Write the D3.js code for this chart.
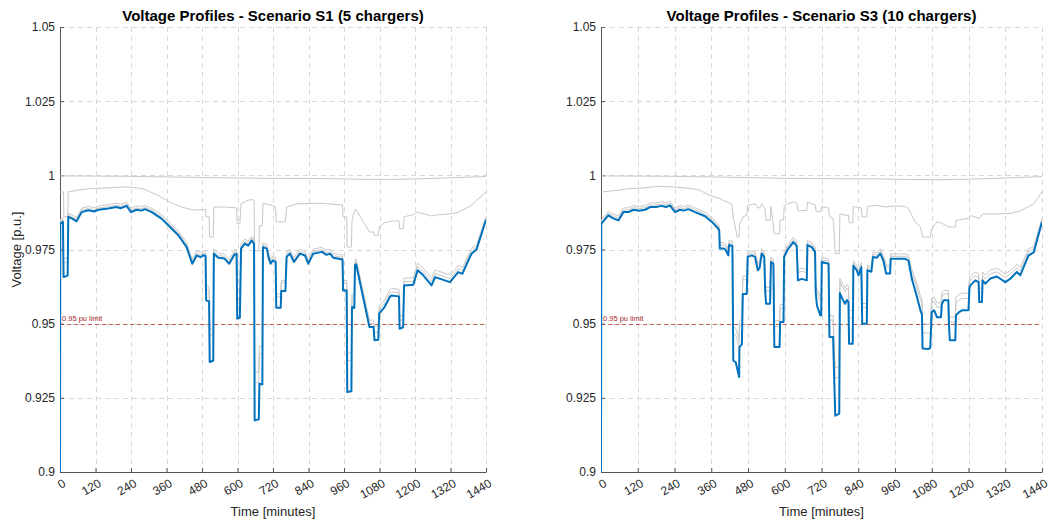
<!DOCTYPE html>
<html>
<head>
<meta charset="utf-8">
<script src="https://cdn.jsdelivr.net/npm/d3@7"></script>
<style>
  html, body { margin: 0; padding: 0; background: #fff; }
  svg { display: block; font-family: "Liberation Sans", Arial, Helvetica, sans-serif; }
</style>
</head>
<body>
<svg id="chart" width="1051" height="524"></svg>
<script>
// ---------- axis ticks ----------
const timeTicks = [0, 120, 240, 360, 480, 600, 720, 840, 960, 1080, 1200, 1320, 1440];
const voltTicks = [0.9, 0.925, 0.95, 0.975, 1, 1.025, 1.05];
const limitValue = 0.95;
const limitLabel = "0.95 pu limit";

// ---------- Scenario S1 (5 chargers) ----------
const s1Time = [0, 1, 10, 12, 26, 28, 40, 56, 73, 96, 115, 130, 163, 191, 205, 225, 240, 259, 275, 287, 310, 343, 372, 400, 428, 447, 462, 475, 485, 492, 494, 504, 506, 518, 520, 535, 555, 572, 590, 597, 599, 608, 612, 625, 636, 648, 656, 658, 672, 674, 684, 686, 699, 706, 712, 719, 729, 731, 746, 748, 762, 766, 777, 791, 811, 828, 839, 856, 885, 901, 913, 924, 955, 957, 969, 971, 985, 987, 995, 997, 1001, 1046, 1060, 1063, 1076, 1079, 1097, 1115, 1120, 1146, 1148, 1160, 1163, 1194, 1209, 1228, 1256, 1268, 1318, 1346, 1360, 1391, 1408, 1440];
// weakest bus (end of feeder)
const s1Weakest = [0.9000, 0.9838, 0.9843, 0.9657, 0.9662, 0.9860, 0.9855, 0.9845, 0.9876, 0.9882, 0.9878, 0.9884, 0.9888, 0.9893, 0.9889, 0.9897, 0.9876, 0.9884, 0.9881, 0.9886, 0.9876, 0.9854, 0.9826, 0.9798, 0.9758, 0.9702, 0.9730, 0.9724, 0.9731, 0.9728, 0.9579, 0.9575, 0.9371, 0.9375, 0.9736, 0.9722, 0.9720, 0.9702, 0.9733, 0.9735, 0.9517, 0.9520, 0.9753, 0.9770, 0.9763, 0.9780, 0.9770, 0.9174, 0.9178, 0.9298, 0.9295, 0.9758, 0.9753, 0.9719, 0.9702, 0.9713, 0.9708, 0.9554, 0.9554, 0.9610, 0.9610, 0.9725, 0.9736, 0.9708, 0.9736, 0.9730, 0.9702, 0.9736, 0.9742, 0.9732, 0.9736, 0.9722, 0.9716, 0.9612, 0.9612, 0.9270, 0.9272, 0.9556, 0.9553, 0.9697, 0.9700, 0.9489, 0.9489, 0.9444, 0.9446, 0.9534, 0.9556, 0.9590, 0.9595, 0.9592, 0.9483, 0.9488, 0.9629, 0.9631, 0.9680, 0.9663, 0.9629, 0.9657, 0.9640, 0.9674, 0.9668, 0.9736, 0.9750, 0.9850];
const s1NearA = [0.9000, 0.9845, 0.9850, 0.9705, 0.9710, 0.9866, 0.9861, 0.9851, 0.9882, 0.9888, 0.9884, 0.9890, 0.9894, 0.9899, 0.9895, 0.9903, 0.9882, 0.9890, 0.9887, 0.9892, 0.9882, 0.9860, 0.9832, 0.9805, 0.9765, 0.9709, 0.9737, 0.9731, 0.9738, 0.9735, 0.9615, 0.9612, 0.9460, 0.9463, 0.9743, 0.9729, 0.9727, 0.9709, 0.9740, 0.9742, 0.9568, 0.9571, 0.9760, 0.9777, 0.9770, 0.9787, 0.9777, 0.9300, 0.9303, 0.9400, 0.9398, 0.9765, 0.9760, 0.9726, 0.9709, 0.9720, 0.9715, 0.9590, 0.9590, 0.9638, 0.9638, 0.9732, 0.9743, 0.9715, 0.9743, 0.9737, 0.9709, 0.9743, 0.9749, 0.9739, 0.9743, 0.9729, 0.9723, 0.9636, 0.9636, 0.9375, 0.9377, 0.9590, 0.9588, 0.9706, 0.9709, 0.9500, 0.9500, 0.9470, 0.9472, 0.9548, 0.9568, 0.9602, 0.9607, 0.9604, 0.9510, 0.9514, 0.9641, 0.9643, 0.9692, 0.9675, 0.9641, 0.9669, 0.9652, 0.9685, 0.9679, 0.9745, 0.9758, 0.9855];
const s1NearB = [0.9000, 0.9852, 0.9857, 0.9718, 0.9722, 0.9873, 0.9868, 0.9858, 0.9889, 0.9895, 0.9891, 0.9897, 0.9901, 0.9906, 0.9902, 0.9910, 0.9889, 0.9897, 0.9894, 0.9899, 0.9889, 0.9867, 0.9839, 0.9812, 0.9773, 0.9717, 0.9745, 0.9739, 0.9746, 0.9743, 0.9628, 0.9625, 0.9480, 0.9483, 0.9751, 0.9737, 0.9735, 0.9717, 0.9748, 0.9750, 0.9582, 0.9585, 0.9768, 0.9785, 0.9778, 0.9795, 0.9785, 0.9335, 0.9338, 0.9425, 0.9422, 0.9773, 0.9768, 0.9734, 0.9717, 0.9728, 0.9723, 0.9600, 0.9600, 0.9646, 0.9646, 0.9740, 0.9751, 0.9723, 0.9751, 0.9745, 0.9717, 0.9751, 0.9757, 0.9747, 0.9751, 0.9737, 0.9731, 0.9645, 0.9645, 0.9400, 0.9402, 0.9600, 0.9598, 0.9716, 0.9719, 0.9512, 0.9512, 0.9490, 0.9492, 0.9560, 0.9580, 0.9614, 0.9619, 0.9616, 0.9525, 0.9528, 0.9653, 0.9655, 0.9704, 0.9687, 0.9653, 0.9681, 0.9664, 0.9696, 0.9690, 0.9754, 0.9766, 0.9860];
// mid-feeder bus
const s1MidTime = [0, 12, 13, 26, 28, 60, 100, 230, 280, 330, 380, 410, 450, 492, 494, 504, 506, 518, 520, 560, 597, 599, 608, 612, 636, 648, 656, 658, 672, 674, 684, 686, 712, 729, 731, 762, 766, 800, 880, 955, 957, 969, 971, 985, 987, 997, 1001, 1046, 1060, 1063, 1076, 1079, 1097, 1120, 1146, 1148, 1160, 1163, 1194, 1209, 1256, 1268, 1318, 1346, 1391, 1408, 1440];
const s1Mid = [0.9944, 0.9944, 0.9860, 0.9860, 0.9944, 0.9950, 0.9955, 0.9961, 0.9955, 0.9933, 0.9905, 0.9893, 0.9883, 0.9885, 0.9860, 0.9860, 0.9792, 0.9792, 0.9893, 0.9893, 0.9890, 0.9837, 0.9837, 0.9904, 0.9916, 0.9918, 0.9916, 0.9745, 0.9745, 0.9830, 0.9830, 0.9906, 0.9900, 0.9893, 0.9843, 0.9843, 0.9893, 0.9904, 0.9906, 0.9900, 0.9860, 0.9860, 0.9758, 0.9758, 0.9848, 0.9884, 0.9884, 0.9809, 0.9809, 0.9798, 0.9798, 0.9826, 0.9840, 0.9846, 0.9846, 0.9820, 0.9820, 0.9860, 0.9868, 0.9876, 0.9863, 0.9866, 0.9870, 0.9875, 0.9899, 0.9916, 0.9944];
// substation-side bus
const s1TopTime = [0, 200, 400, 600, 700, 900, 1000, 1100, 1200, 1300, 1440];
const s1Top = [0.9998, 0.9997, 0.9994, 0.9991, 0.9990, 0.9989, 0.9987, 0.9986, 0.9988, 0.9991, 0.9996];

// ---------- Scenario S3 (10 chargers) ----------
const s3Time = [0, 1, 24, 40, 57, 73, 90, 106, 125, 144, 160, 180, 198, 212, 225, 242, 258, 270, 285, 307, 340, 362, 378, 386, 388, 402, 407, 416, 418, 429, 432, 440, 451, 452, 460, 463, 476, 479, 492, 503, 512, 518, 525, 533, 536, 539, 552, 555, 563, 566, 583, 585, 596, 598, 610, 628, 639, 643, 656, 672, 674, 688, 699, 701, 705, 716, 719, 721, 743, 746, 758, 761, 765, 778, 780, 790, 797, 803, 808, 810, 822, 824, 835, 841, 850, 853, 868, 870, 883, 888, 900, 912, 922, 931, 944, 946, 993, 1004, 1015, 1026, 1043, 1048, 1050, 1070, 1075, 1080, 1088, 1097, 1110, 1113, 1119, 1134, 1136, 1139, 1157, 1159, 1169, 1179, 1200, 1203, 1206, 1222, 1233, 1235, 1244, 1246, 1255, 1271, 1293, 1320, 1337, 1358, 1369, 1396, 1413, 1440];
const s3Weakest = [0.9000, 0.9837, 0.9865, 0.9855, 0.9848, 0.9876, 0.9876, 0.9884, 0.9881, 0.9884, 0.9893, 0.9893, 0.9897, 0.9893, 0.9899, 0.9876, 0.9884, 0.9881, 0.9886, 0.9876, 0.9862, 0.9843, 0.9826, 0.9815, 0.9753, 0.9753, 0.9748, 0.9730, 0.9765, 0.9762, 0.9376, 0.9370, 0.9320, 0.9421, 0.9430, 0.9600, 0.9600, 0.9725, 0.9730, 0.9725, 0.9680, 0.9688, 0.9736, 0.9725, 0.9612, 0.9567, 0.9567, 0.9708, 0.9702, 0.9421, 0.9421, 0.9506, 0.9506, 0.9725, 0.9750, 0.9775, 0.9762, 0.9646, 0.9651, 0.9646, 0.9765, 0.9758, 0.9742, 0.9607, 0.9562, 0.9528, 0.9528, 0.9708, 0.9702, 0.9455, 0.9455, 0.9330, 0.9190, 0.9197, 0.9603, 0.9580, 0.9567, 0.9580, 0.9572, 0.9432, 0.9432, 0.9695, 0.9680, 0.9663, 0.9690, 0.9500, 0.9500, 0.9680, 0.9675, 0.9725, 0.9722, 0.9736, 0.9713, 0.9669, 0.9669, 0.9719, 0.9719, 0.9712, 0.9651, 0.9612, 0.9545, 0.9530, 0.9416, 0.9415, 0.9418, 0.9539, 0.9545, 0.9522, 0.9522, 0.9566, 0.9579, 0.9579, 0.9500, 0.9444, 0.9444, 0.9528, 0.9539, 0.9545, 0.9545, 0.9620, 0.9629, 0.9646, 0.9640, 0.9573, 0.9573, 0.9646, 0.9635, 0.9652, 0.9659, 0.9640, 0.9652, 0.9674, 0.9663, 0.9730, 0.9740, 0.9843];
const s3NearA = [0.9000, 0.9844, 0.9872, 0.9862, 0.9855, 0.9883, 0.9883, 0.9891, 0.9888, 0.9891, 0.9900, 0.9900, 0.9904, 0.9900, 0.9906, 0.9883, 0.9891, 0.9888, 0.9893, 0.9883, 0.9869, 0.9850, 0.9833, 0.9822, 0.9765, 0.9765, 0.9760, 0.9742, 0.9773, 0.9770, 0.9466, 0.9460, 0.9420, 0.9490, 0.9498, 0.9648, 0.9648, 0.9733, 0.9738, 0.9733, 0.9698, 0.9706, 0.9744, 0.9733, 0.9640, 0.9610, 0.9610, 0.9716, 0.9710, 0.9490, 0.9490, 0.9552, 0.9552, 0.9733, 0.9758, 0.9783, 0.9770, 0.9672, 0.9677, 0.9672, 0.9773, 0.9766, 0.9750, 0.9640, 0.9605, 0.9578, 0.9578, 0.9716, 0.9710, 0.9512, 0.9512, 0.9412, 0.9315, 0.9320, 0.9640, 0.9620, 0.9608, 0.9620, 0.9613, 0.9520, 0.9520, 0.9703, 0.9688, 0.9671, 0.9698, 0.9555, 0.9555, 0.9690, 0.9685, 0.9733, 0.9730, 0.9744, 0.9721, 0.9690, 0.9690, 0.9727, 0.9727, 0.9722, 0.9670, 0.9640, 0.9580, 0.9568, 0.9470, 0.9468, 0.9470, 0.9570, 0.9575, 0.9555, 0.9555, 0.9590, 0.9600, 0.9600, 0.9548, 0.9505, 0.9505, 0.9570, 0.9580, 0.9585, 0.9585, 0.9640, 0.9648, 0.9662, 0.9656, 0.9605, 0.9605, 0.9662, 0.9651, 0.9668, 0.9675, 0.9656, 0.9668, 0.9689, 0.9678, 0.9742, 0.9751, 0.9850];
const s3NearB = [0.9000, 0.9851, 0.9879, 0.9869, 0.9862, 0.9890, 0.9890, 0.9898, 0.9895, 0.9898, 0.9907, 0.9907, 0.9911, 0.9907, 0.9913, 0.9890, 0.9898, 0.9895, 0.9900, 0.9890, 0.9876, 0.9857, 0.9840, 0.9829, 0.9773, 0.9773, 0.9768, 0.9750, 0.9781, 0.9778, 0.9490, 0.9485, 0.9445, 0.9508, 0.9515, 0.9660, 0.9660, 0.9741, 0.9746, 0.9741, 0.9705, 0.9713, 0.9752, 0.9741, 0.9650, 0.9622, 0.9622, 0.9724, 0.9718, 0.9510, 0.9510, 0.9565, 0.9565, 0.9741, 0.9766, 0.9791, 0.9778, 0.9682, 0.9687, 0.9682, 0.9781, 0.9774, 0.9758, 0.9652, 0.9618, 0.9592, 0.9592, 0.9724, 0.9718, 0.9528, 0.9528, 0.9435, 0.9350, 0.9355, 0.9652, 0.9632, 0.9620, 0.9632, 0.9625, 0.9545, 0.9545, 0.9711, 0.9696, 0.9679, 0.9706, 0.9568, 0.9568, 0.9698, 0.9693, 0.9741, 0.9738, 0.9752, 0.9729, 0.9698, 0.9698, 0.9735, 0.9735, 0.9731, 0.9682, 0.9652, 0.9595, 0.9583, 0.9500, 0.9498, 0.9500, 0.9585, 0.9590, 0.9570, 0.9570, 0.9603, 0.9612, 0.9612, 0.9562, 0.9522, 0.9522, 0.9588, 0.9598, 0.9603, 0.9603, 0.9652, 0.9660, 0.9674, 0.9668, 0.9620, 0.9620, 0.9674, 0.9663, 0.9680, 0.9687, 0.9668, 0.9680, 0.9700, 0.9690, 0.9752, 0.9760, 0.9856];
const s3MidTime = [0, 24, 57, 90, 130, 190, 250, 300, 324, 350, 389, 400, 427, 432, 445, 451, 452, 460, 463, 476, 479, 503, 512, 518, 525, 536, 539, 552, 555, 566, 583, 585, 596, 598, 610, 628, 639, 643, 672, 674, 700, 702, 716, 721, 743, 746, 758, 765, 778, 780, 800, 808, 810, 822, 824, 850, 853, 868, 870, 900, 930, 944, 960, 993, 1004, 1026, 1043, 1050, 1075, 1080, 1097, 1110, 1136, 1157, 1159, 1200, 1206, 1235, 1246, 1300, 1340, 1369, 1413, 1440];
const s3Mid = [0.9944, 0.9946, 0.9950, 0.9955, 0.9957, 0.9963, 0.9960, 0.9955, 0.9949, 0.9935, 0.9921, 0.9915, 0.9904, 0.9858, 0.9792, 0.9792, 0.9835, 0.9848, 0.9860, 0.9865, 0.9899, 0.9904, 0.9890, 0.9890, 0.9904, 0.9885, 0.9848, 0.9848, 0.9895, 0.9803, 0.9803, 0.9850, 0.9850, 0.9895, 0.9905, 0.9910, 0.9908, 0.9880, 0.9882, 0.9910, 0.9900, 0.9880, 0.9875, 0.9895, 0.9890, 0.9860, 0.9855, 0.9736, 0.9736, 0.9870, 0.9865, 0.9866, 0.9840, 0.9840, 0.9895, 0.9890, 0.9860, 0.9860, 0.9895, 0.9899, 0.9893, 0.9895, 0.9897, 0.9895, 0.9888, 0.9843, 0.9826, 0.9792, 0.9792, 0.9820, 0.9843, 0.9840, 0.9826, 0.9826, 0.9848, 0.9855, 0.9865, 0.9855, 0.9870, 0.9870, 0.9872, 0.9880, 0.9904, 0.9944];
const s3TopTime = [0, 200, 400, 600, 700, 900, 1000, 1100, 1200, 1300, 1440];
const s3Top = [0.9998, 0.9997, 0.9994, 0.9990, 0.9989, 0.9988, 0.9986, 0.9985, 0.9987, 0.9990, 0.9996];

// ---------- layout ----------
const yTop = 27, yBottom = 472;
const panels = [
  {
    id: "s1", title: "Voltage Profiles - Scenario S1 (5 chargers)", left: 60, right: 486, yLabel: true,
    grey: [[s1TopTime, s1Top], [s1MidTime, s1Mid], [s1Time, s1NearB], [s1Time, s1NearA]],
    weak: [s1Time, s1Weakest]
  },
  {
    id: "s3", title: "Voltage Profiles - Scenario S3 (10 chargers)", left: 601, right: 1042, yLabel: false,
    grey: [[s3TopTime, s3Top], [s3MidTime, s3Mid], [s3Time, s3NearB], [s3Time, s3NearA]],
    weak: [s3Time, s3Weakest]
  }
];

const svg = d3.select("#chart");
const textColor = "#262626";
const axisColor = "#555555";
const fontStack = '"Liberation Sans", Arial, Helvetica, sans-serif';
const fmtVolt = d => String(+d.toFixed(3));

panels.forEach(p => {
  const x = d3.scaleLinear().domain([0, 1440]).range([p.left, p.right]);
  const y = d3.scaleLinear().domain([0.9, 1.05]).range([yBottom, yTop]);
  const g = svg.append("g");

  // clip region for the data
  svg.append("defs").append("clipPath").attr("id", "clip-" + p.id)
    .append("rect")
    .attr("x", p.left).attr("y", yTop)
    .attr("width", p.right - p.left).attr("height", yBottom - yTop);

  // dashed grid
  const grid = g.append("g").attr("stroke", "#d9d9d9").attr("stroke-width", 1)
    .attr("stroke-dasharray", "5,4").attr("fill", "none");
  grid.selectAll("line.v").data(timeTicks.filter(t => t > 0)).join("line")
    .attr("class", "v")
    .attr("x1", d => Math.round(x(d)) + 0.5).attr("x2", d => Math.round(x(d)) + 0.5)
    .attr("y1", yTop).attr("y2", yBottom);
  grid.selectAll("line.h").data(voltTicks.filter(v => v > 0.9)).join("line")
    .attr("class", "h")
    .attr("x1", p.left).attr("x2", p.right)
    .attr("y1", d => Math.round(y(d)) + 0.5).attr("y2", d => Math.round(y(d)) + 0.5);

  // axes
  const yAxis = d3.axisLeft(y).tickValues(voltTicks).tickFormat(fmtVolt)
    .tickSizeInner(-4).tickSizeOuter(0).tickPadding(5);
  const ya = g.append("g").attr("transform", `translate(${p.left},0)`).call(yAxis);
  ya.select(".domain").attr("stroke", axisColor);
  ya.selectAll(".tick line").attr("stroke", axisColor);
  ya.selectAll("text").attr("fill", textColor).style("font-size", "12px")
    .style("font-family", fontStack);

  const xAxis = d3.axisBottom(x).tickValues(timeTicks).tickFormat(d3.format("d"))
    .tickSizeInner(-4).tickSizeOuter(0);
  const xa = g.append("g").attr("transform", `translate(0,${yBottom})`).call(xAxis);
  xa.select(".domain").attr("stroke", axisColor);
  xa.selectAll(".tick line").attr("stroke", axisColor);
  xa.selectAll("text")
    .attr("fill", textColor).style("font-size", "12px")
    .style("font-family", fontStack)
    .attr("y", 0).attr("x", 0).attr("dy", "0.35em")
    .attr("text-anchor", "end")
    .attr("transform", "translate(4,10) rotate(-30)");

  // axis labels and title
  g.append("text")
    .attr("x", (p.left + p.right) / 2).attr("y", 516)
    .attr("text-anchor", "middle").attr("fill", textColor)
    .style("font-size", "13px").text("Time [minutes]");
  if (p.yLabel) {
    g.append("text")
      .attr("transform", `translate(21,${(yTop + yBottom) / 2}) rotate(-90)`)
      .attr("text-anchor", "middle").attr("fill", textColor)
      .style("font-size", "13px").text("Voltage [p.u.]");
  }
  g.append("text")
    .attr("x", (p.left + p.right) / 2).attr("y", 21)
    .attr("text-anchor", "middle").attr("fill", "#000")
    .style("font-size", "15px").style("font-weight", "bold").text(p.title);

  // 0.95 p.u. limit
  const yLim = Math.round(y(limitValue)) + 0.5;
  g.append("line")
    .attr("x1", p.left).attr("x2", p.right)
    .attr("y1", yLim).attr("y2", yLim)
    .attr("stroke", "#c0392b").attr("stroke-opacity", 0.8)
    .attr("stroke-width", 1).attr("stroke-dasharray", "4,3");
  g.append("text")
    .attr("x", p.left + 2).attr("y", yLim - 3.5)
    .attr("fill", "#a52a2a").style("font-size", "7.5px").text(limitLabel);

  // bus voltage traces
  const line = d3.line().x(d => x(d[0])).y(d => y(d[1]));
  const traces = g.append("g").attr("clip-path", `url(#clip-${p.id})`).attr("fill", "none");
  traces.selectAll("path.bus").data(p.grey).join("path")
    .attr("class", "bus")
    .attr("d", s => line(d3.zip(s[0], s[1])))
    .attr("stroke", "#c8c8c8").attr("stroke-width", 1)
    .attr("stroke-linejoin", "round");
  traces.append("path")
    .attr("d", line(d3.zip(p.weak[0], p.weak[1])))
    .attr("stroke", "#0072BD").attr("stroke-width", 2)
    .attr("stroke-linejoin", "round");
});
</script>
</body>
</html>
